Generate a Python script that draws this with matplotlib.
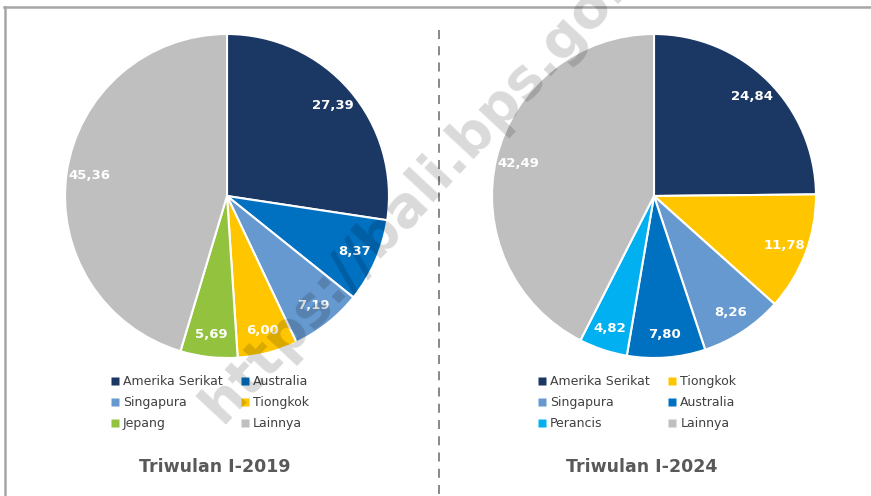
import matplotlib
matplotlib.use("Agg")
import matplotlib.pyplot as plt
from matplotlib.lines import Line2D
import numpy as np

plt.rcParams['font.family'] = ['DejaVu Sans']

# ---- data ----
labels_2019 = ["Amerika Serikat", "Australia", "Singapura", "Tiongkok", "Jepang", "Lainnya"]
values_2019 = [27.39, 8.37, 7.19, 6.00, 5.69, 45.36]
labels_2024 = ["Amerika Serikat", "Tiongkok", "Singapura", "Australia", "Perancis", "Lainnya"]
values_2024 = [24.84, 11.78, 8.26, 7.80, 4.82, 42.49]
titles = ["Triwulan I-2019", "Triwulan I-2024"]
watermark = "https://bali.bps.go.id"

palette = {
    "Amerika Serikat": "#1B3764",
    "Australia": "#0070C0",
    "Singapura": "#6699CF",
    "Tiongkok": "#FFC600",
    "Jepang": "#92C23E",
    "Perancis": "#00B0F0",
    "Lainnya": "#BFBFBF",
}

W, H = 871, 496
fig = plt.figure(figsize=(W / 100, H / 100), dpi=100)
fig.patch.set_facecolor("white")

def fx(px):
    return px / W

def fy(py):
    return 1 - py / H

R = 162
centers = [(227, 196), (654, 196)]
datasets = [(labels_2019, values_2019), (labels_2024, values_2024)]

def fmt(v):
    return f"{v:.2f}".replace(".", ",")

for (cx, cy), (labs, vals), title in zip(centers, datasets, titles):
    ax = fig.add_axes([fx(cx - R), fy(cy + R), fx(2 * R), (2 * R) / H])
    wedges, texts = ax.pie(
        vals,
        colors=[palette[l] for l in labs],
        startangle=90,
        counterclock=False,
        radius=1,
        wedgeprops=dict(edgecolor="white", linewidth=1.5),
    )
    for w, v in zip(wedges, vals):
        mid = np.deg2rad((w.theta1 + w.theta2) / 2)
        d = 0.86
        ax.text(d * np.cos(mid), d * np.sin(mid), fmt(v), ha="center", va="center",
                color="white", fontsize=9.5, fontweight="bold")
    ax.set_xlim(-1, 1)
    ax.set_ylim(-1, 1)
    ax.set_aspect("equal")
    ax.axis("off")

    order = [0, 2, 4, 1, 3, 5]
    handles = [Line2D([], [], marker="s", linestyle="none", markersize=5.5,
                      markerfacecolor=palette[labs[i]], markeredgecolor="none") for i in order]
    fig.legend(handles, [labs[i] for i in order], ncol=2,
               loc="upper left", bbox_to_anchor=(fx(cx - 116), fy(375)),
               frameon=False, fontsize=9, handlelength=0.6, handletextpad=0.35,
               columnspacing=1.5, labelspacing=0.65, borderpad=0, borderaxespad=0,
               labelcolor="#404040")

    fig.text(fx(cx - 12), fy(467), title, ha="center", va="center",
             fontsize=12.5, fontweight="bold", color="#595959")

# frame lines
fig.add_artist(Line2D([fx(4), fx(W)], [fy(7), fy(7)], color="#A6A6A6", linewidth=1.8))
fig.add_artist(Line2D([fx(5), fx(5)], [fy(7), fy(H)], color="#A6A6A6", linewidth=1.8))
# divider
fig.add_artist(Line2D([fx(439), fx(439)], [fy(30), fy(H)], color="#7F7F7F",
                      linewidth=1.3, linestyle=(0, (5, 4))))

# watermark (cut off at the top edge, as in the reference)
fig.text(fx(222), fy(425), watermark, rotation=47, rotation_mode="anchor",
         ha="left", va="baseline", fontsize=40, fontweight="bold",
         color="black", alpha=0.15, zorder=10)

fig.savefig("out.png", dpi=100)
